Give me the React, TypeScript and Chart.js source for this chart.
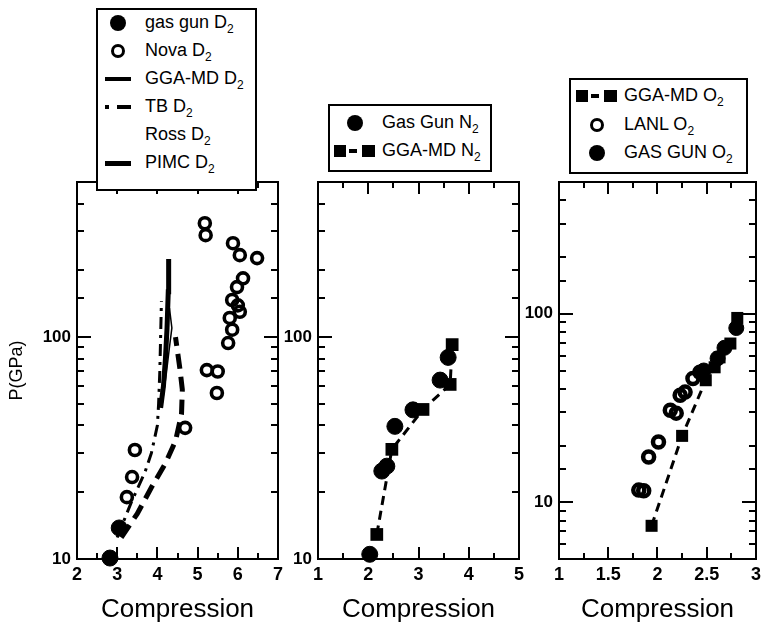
import React, { useEffect, useRef } from 'react';
import { Chart, registerables } from 'chart.js';
Chart.register(...registerables);

const FONT = "'Liberation Sans', Arial, Helvetica, sans-serif";
Chart.defaults.font.family = FONT;
Chart.defaults.color = '#000';

// ---------- Panel 1 : D2 ----------
const d2GasGunX = [2.82, 3.05];
const d2GasGunY = [10.1, 13.8];
const d2NovaX = [3.24, 3.37, 3.44, 4.69, 5.18, 5.2, 5.88, 6.05, 6.48, 6.13, 5.98, 5.86, 6.0, 6.05, 5.8, 5.86, 5.76, 5.23, 5.5, 5.48];
const d2NovaY = [19, 23.4, 31, 39, 326, 288, 265, 234, 227, 184, 168, 147, 139, 130, 122, 108, 94, 71, 70, 56];
const d2GgaX = [3.1, 3.5, 3.85, 4.2, 4.45, 4.6, 4.62, 4.56, 4.45];
const d2GgaY = [12.5, 16, 21, 27, 34, 45, 58, 72, 100];
const d2TbX = [3.0, 3.35, 3.69, 3.85, 4.0, 4.03, 4.06, 4.08, 4.1];
const d2TbY = [12.5, 18, 24.6, 30, 40, 50, 70, 100, 145];
const d2RossX = [4.12, 4.22, 4.3, 4.36, 4.3];
const d2RossY = [50, 68, 90, 110, 135];
const d2PimcX = [4.08, 4.15, 4.2, 4.24, 4.27, 4.28];
const d2PimcY = [48, 60, 80, 110, 160, 225];

// ---------- Panel 2 : N2 ----------
const n2GasGunX = [2.03, 2.27, 2.37, 2.53, 2.89, 3.43, 3.59];
const n2GasGunY = [10.5, 24.9, 26.2, 39.6, 47, 64, 81];
const n2GgaX = [2.17, 2.47, 3.09, 3.63, 3.67];
const n2GgaY = [12.9, 31.2, 47.2, 61.2, 92.5];

// ---------- Panel 3 : O2 ----------
const o2GgaX = [1.94, 2.25, 2.49, 2.58, 2.63, 2.74, 2.81];
const o2GgaY = [7.5, 22.5, 44.4, 52, 58.7, 69.5, 95];
const o2LanlX = [1.81, 1.86, 1.91, 2.01, 2.13, 2.19, 2.23, 2.28, 2.36, 2.43];
const o2LanlY = [11.6, 11.5, 17.4, 20.9, 30.8, 29.7, 37, 38.4, 45.4, 48.9];
const o2GasGunX = [2.47, 2.61, 2.68, 2.8];
const o2GasGunY = [50, 58, 66, 84];

// axis ranges / tick labels
const p1X = [2, 7];
const p2X = [1, 5];
const p3X = [1, 3];
const p12Y = [10, 500];
const p3Y = [5, 500];
const xTitle = 'Compression';
const yTitle = 'P(GPa)';

const pts = (xs: number[], ys: number[]) => xs.map((x, i) => ({ x, y: ys[i] }));

const filled = (xs: number[], ys: number[], r = 8) => ({
  data: pts(xs, ys), showLine: false, pointStyle: 'circle', pointRadius: r,
  pointBackgroundColor: '#000', pointBorderColor: '#000', pointBorderWidth: 1, clip: false,
});
const open = (xs: number[], ys: number[], r: number, bw: number) => ({
  data: pts(xs, ys), showLine: false, pointStyle: 'circle', pointRadius: r,
  pointBackgroundColor: 'rgba(0,0,0,0)', pointBorderColor: '#000', pointBorderWidth: bw, clip: false,
});
const squaresDashed = (xs: number[], ys: number[], r: number) => ({
  data: pts(xs, ys), showLine: true, borderColor: '#000', borderWidth: 3, borderDash: [9, 6],
  pointStyle: 'rect', pointRadius: r, pointBackgroundColor: '#000', pointBorderColor: '#000',
  pointBorderWidth: 0, clip: false,
});
const curve = (xs: number[], ys: number[], w: number, dash: number[], color = '#000') => ({
  data: pts(xs, ys), showLine: true, borderColor: color, borderWidth: w, borderDash: dash,
  pointRadius: 0, clip: false,
});

const isMult = (v: number, s: number) => Math.abs(v / s - Math.round(v / s)) < 1e-6;
const isPow10 = (v: number) => { const l = Math.log10(v); return Math.abs(l - Math.round(l)) < 1e-6; };

const frameTicks = {
  id: 'frameTicks',
  beforeDatasetsDraw(chart: any, _args: any, opts: any) {
    const { ctx, chartArea: a } = chart;
    const xs = chart.scales.x, ys = chart.scales.y;
    ctx.save();
    ctx.strokeStyle = '#000';
    ctx.lineWidth = 2;
    ctx.beginPath();
    for (const t of xs.ticks) {
      const p = Math.round(xs.getPixelForValue(t.value));
      const len = isMult(t.value, opts.labelStep) ? 12 : 6;
      ctx.moveTo(p, a.bottom); ctx.lineTo(p, a.bottom - len);
      ctx.moveTo(p, a.top); ctx.lineTo(p, a.top + len);
    }
    for (const t of ys.ticks) {
      const p = Math.round(ys.getPixelForValue(t.value));
      const len = isPow10(t.value) ? 14 : 7;
      ctx.moveTo(a.left, p); ctx.lineTo(a.left + len, p);
      ctx.moveTo(a.right, p); ctx.lineTo(a.right - len, p);
    }
    ctx.stroke();
    ctx.strokeRect(a.left, a.top, a.right - a.left, a.bottom - a.top);
    ctx.restore();
  },
};

function makeConfig(p: {
  datasets: any[]; x: number[]; y: number[]; step: number; labelStep: number;
  pad: { left: number; right: number; top: number; bottom: number }; yW: number; xH: number; showYTitle: boolean;
}) {
  return {
    type: 'scatter',
    data: { datasets: p.datasets },
    options: {
      responsive: false,
      animation: false,
      events: [],
      layout: { padding: p.pad },
      plugins: { legend: { display: false }, tooltip: { enabled: false }, frameTicks: { labelStep: p.labelStep } },
      scales: {
        x: {
          type: 'linear', min: p.x[0], max: p.x[1],
          grid: { display: false, drawTicks: false }, border: { display: false },
          ticks: {
            stepSize: p.step, autoSkip: false, maxRotation: 0, padding: 5, color: '#000',
            font: { size: 18, weight: 'bold', family: FONT },
            callback: (v: number) => (isMult(v, p.labelStep) ? String(Math.round(v * 100) / 100) : ''),
          },
          title: { display: true, text: xTitle, color: '#000', font: { size: 26, family: FONT }, padding: { top: 0, bottom: 0 } },
          afterFit: (s: any) => { s.height = p.xH; },
        },
        y: {
          type: 'logarithmic', min: p.y[0], max: p.y[1],
          grid: { display: false, drawTicks: false }, border: { display: false },
          ticks: {
            autoSkip: false, padding: 6, color: '#000',
            font: { size: 17, weight: 'bold', family: FONT },
            callback: (v: number) => (isPow10(v) ? String(Math.round(v)) : ''),
          },
          title: { display: p.showYTitle, text: yTitle, color: '#000', font: { size: 18, family: FONT }, padding: { top: 2, bottom: 0 } },
          afterFit: (s: any) => { s.width = p.yW; },
        },
      },
    },
    plugins: [frameTicks],
  };
}

const configs = [
  () => makeConfig({
    datasets: [
      filled(d2GasGunX, d2GasGunY, 8),
      open(d2NovaX, d2NovaY, 5.5, 3.6),
      curve(d2PimcX, d2PimcY, 5, []),
      curve(d2RossX, d2RossY, 1.5, []),
      curve(d2GgaX, d2GgaY, 5, [15, 8]),
      curve(d2TbX, d2TbY, 3, [12, 6, 3, 6]),
    ],
    x: p1X, y: p12Y, step: 0.5, labelStep: 1,
    pad: { left: 4, right: 488, top: 182, bottom: 6 }, yW: 73, xH: 66, showYTitle: true,
  }),
  () => makeConfig({
    datasets: [filled(n2GasGunX, n2GasGunY, 8), squaresDashed(n2GgaX, n2GgaY, 9)],
    x: p2X, y: p12Y, step: 0.5, labelStep: 1,
    pad: { left: 278, right: 247, top: 182, bottom: 6 }, yW: 40, xH: 66, showYTitle: false,
  }),
  () => makeConfig({
    datasets: [filled(o2GasGunX, o2GasGunY, 7.5), open(o2LanlX, o2LanlY, 5.5, 4.5), squaresDashed(o2GgaX, o2GgaY, 8.5)],
    x: p3X, y: p3Y, step: 0.25, labelStep: 0.5,
    pad: { left: 519, right: 7, top: 182, bottom: 6 }, yW: 40, xH: 66, showYTitle: false,
  }),
];

function Panel({ make }: { make: () => any }) {
  const ref = useRef<HTMLCanvasElement | null>(null);
  useEffect(() => {
    const c = new Chart(ref.current as HTMLCanvasElement, make() as any);
    return () => c.destroy();
  }, []);
  return <canvas ref={ref} width={766} height={631} style={{ position: 'absolute', left: 0, top: 0, width: 766, height: 631 }} />;
}

// ---------- legends ----------
type Sym = 'fill' | 'open' | 'bar' | 'dotdash' | 'none' | 'pimc' | 'sqdash';
const legend1Labels = ['gas gun D', 'Nova D', 'GGA-MD D', 'TB D', 'Ross D', 'PIMC D'];
const legend1Syms: Sym[] = ['fill', 'open', 'bar', 'dotdash', 'none', 'pimc'];
const legend2Labels = ['Gas Gun N', 'GGA-MD N'];
const legend2Syms: Sym[] = ['fill', 'sqdash'];
const legend3Labels = ['GGA-MD O', 'LANL O', 'GAS GUN O'];
const legend3Syms: Sym[] = ['sqdash', 'open', 'fill'];

const abs = (l: number, t: number, w: number, h: number, extra: any = {}) =>
  ({ position: 'absolute', left: l, top: t, width: w, height: h, boxSizing: 'border-box', ...extra });

function Symbol({ s, cx, cy }: { s: Sym; cx: number; cy: number }) {
  if (s === 'fill') return <div style={abs(cx - 8, cy - 8, 16, 16, { borderRadius: '50%', background: '#000' }) as any} />;
  if (s === 'open') return <div style={abs(cx - 7, cy - 7, 14, 14, { borderRadius: '50%', border: '3.5px solid #000' }) as any} />;
  if (s === 'bar') return <div style={abs(cx - 13, cy - 2, 26, 4, { background: '#000' }) as any} />;
  if (s === 'pimc') return <div style={abs(cx - 13, cy - 2.5, 26, 5, { background: '#000' }) as any} />;
  if (s === 'dotdash') return (
    <>
      <div style={abs(cx - 13, cy - 2, 4, 4, { background: '#000' }) as any} />
      <div style={abs(cx - 1, cy - 2, 14, 4, { background: '#000' }) as any} />
    </>
  );
  if (s === 'sqdash') return (
    <>
      <div style={abs(cx - 21, cy - 6, 12, 12, { background: '#000' }) as any} />
      <div style={abs(cx - 6, cy - 2, 8, 4, { background: '#000' }) as any} />
      <div style={abs(cx + 7, cy - 6, 13, 12, { background: '#000' }) as any} />
    </>
  );
  return null;
}

function Legend({ box, labels, syms, rows, symX, textX }: {
  box: number[]; labels: string[]; syms: Sym[]; rows: number[]; symX: number; textX: number;
}) {
  return (
    <>
      <div style={abs(box[0], box[1], box[2] - box[0], box[3] - box[1], { border: '2px solid #000', background: '#fff' }) as any} />
      {labels.map((lab, i) => (
        <React.Fragment key={i}>
          <Symbol s={syms[i]} cx={symX} cy={rows[i]} />
          <div style={{ position: 'absolute', left: textX, top: rows[i] - 12, fontSize: 18, lineHeight: '22px', whiteSpace: 'nowrap', fontFamily: FONT, color: '#000' }}>
            {lab}<sub style={{ fontSize: 12, verticalAlign: '-5px', lineHeight: 0 }}>2</sub>
          </div>
        </React.Fragment>
      ))}
    </>
  );
}

export default function App() {
  return (
    <div style={{ position: 'fixed', left: 0, top: 0, width: 766, height: 631, background: '#fff', overflow: 'hidden' }}>
      {configs.map((m, i) => <Panel key={i} make={m} />)}
      <Legend box={[96, 8, 257, 191]} labels={legend1Labels} syms={legend1Syms} rows={[23, 51, 79, 107, 135, 163]} symX={118} textX={145} />
      <Legend box={[328, 104, 492, 172]} labels={legend2Labels} syms={legend2Syms} rows={[123, 151]} symX={355} textX={382} />
      <Legend box={[569, 78, 748, 174]} labels={legend3Labels} syms={legend3Syms} rows={[96, 125, 153]} symX={597} textX={624} />
    </div>
  );
}
